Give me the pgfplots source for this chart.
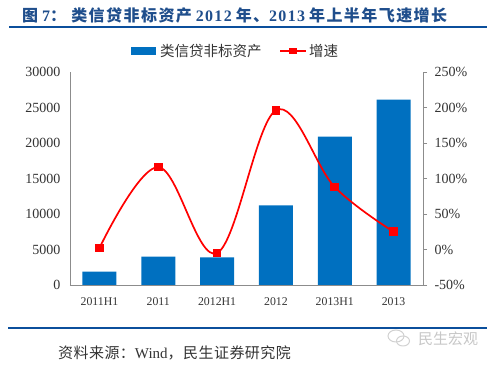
\documentclass[border=0pt]{standalone}
\usepackage{pgfplots}
\pgfplotsset{compat=1.18}
\usepackage{fontspec}
\setmainfont{Liberation Serif}
\newfontfamily\cjk{Noto Sans CJK SC}
\newfontfamily\cjks[LetterSpace=3]{Noto Sans CJK SC}
\newfontfamily\cjkt[LetterSpace=9]{Noto Sans CJK SC}
\newfontfamily\latt[LetterSpace=8]{Liberation Serif}
\definecolor{barblue}{HTML}{0070C0}
\definecolor{ruleblue}{HTML}{0B4F9C}
\definecolor{titleblue}{HTML}{1F4E8C}
\definecolor{axgray}{HTML}{8C8C8C}
\definecolor{txt}{HTML}{333333}
\begin{document}
\begin{tikzpicture}
\path[use as bounding box] (0pt,0pt) rectangle (499pt,374pt);
\begin{axis}[at={(70pt,89pt)},anchor=south west,scale only axis,width=353pt,height=213pt,
 xmin=-0.5,xmax=5.5,ymin=0,ymax=30000,
 axis y line*=left,axis x line*=bottom,
 axis line style={axgray,line width=0.9pt,-},
 xtick={0,1,2,3,4,5},xticklabels={2011H1,2011,2012H1,2012,2013H1,2013},
 ytick={0,5000,10000,15000,20000,25000,30000},
 scaled y ticks=false,
 /pgf/number format/assume math mode=true,
 /pgf/number format/set thousands separator={},
 tick style={draw=none},
 ticklabel style={text=txt},
 yticklabel style={font=\fontsize{14}{14}\selectfont,xshift=-6pt},
 xticklabel style={font=\fontsize{11.8}{12}\selectfont,yshift=-9pt},
]
\addplot[ybar,bar width=34pt,fill=barblue,draw=none] coordinates {(0,1900)(1,4000)(2,3900)(3,11200)(4,20900)(5,26100)};
\end{axis}
\begin{axis}[at={(70pt,89pt)},anchor=south west,scale only axis,width=353pt,height=213pt,
 xmin=-0.5,xmax=5.5,ymin=-50,ymax=250,
 axis y line*=right,axis x line=none,
 axis line style={axgray,line width=0.9pt,-},
 ytick={-50,0,50,100,150,200,250},
 yticklabel={\pgfmathprintnumber{\tick}\%},
 /pgf/number format/assume math mode=true,
 ticklabel style={text=txt,font=\fontsize{14}{14}\selectfont,xshift=4pt},
 ytick style={axgray,line width=0.9pt},
 tick align=outside,
 major tick length=4pt,
]
\addplot[red,line width=1.7pt,smooth,tension=0.6,mark=square*,mark size=3.5pt,mark options={fill=red,draw=red,solid}] coordinates {(0,2)(1,116)(2,-5)(3,196)(4,88)(5,25)};
\end{axis}
\node[anchor=west,text=titleblue,font=\fontsize{16}{16}\selectfont\bfseries,inner sep=0pt] at (22pt,359pt) {{\cjkt 图} {\latt 7}{\cjkt ：\ 类信贷非标资产} {\latt 2012} {\cjkt 年、}{\latt 2013} {\cjkt 年上半年飞速增长}};
\draw[ruleblue,line width=2pt] (9pt,347pt) -- (487pt,347pt);
\fill[barblue] (131pt,319pt) rectangle (156pt,327pt);
\node[anchor=west,text=txt,font=\fontsize{14.5}{14.5}\selectfont\cjk,inner sep=0pt] at (160pt,323pt) {类信贷非标资产};
\draw[red,line width=1.7pt] (280pt,323pt) -- (306pt,323pt);
\fill[red] (289pt,320pt) rectangle (297pt,326pt);
\node[anchor=west,text=txt,font=\fontsize{14.5}{14.5}\selectfont\cjk,inner sep=0pt] at (309pt,323pt) {增速};
\draw[ruleblue,line width=2pt] (8pt,46pt) -- (487pt,46pt);
\node[anchor=west,text=txt,font=\fontsize{15}{15}\selectfont,inner sep=0pt] at (58pt,21pt) {{\cjks 资料来源：}Wind{\cjks ，民生证券研究院}};
\draw[black!18,line width=1pt] (396pt,38pt) ellipse (8pt and 6pt);
\draw[black!18,line width=1pt] (403pt,33pt) ellipse (6.5pt and 5pt);
\node[anchor=west,text=black!22,font=\fontsize{15}{15}\selectfont\cjk,inner sep=0pt] at (418pt,35pt) {民生宏观};
\end{tikzpicture}
\end{document}
